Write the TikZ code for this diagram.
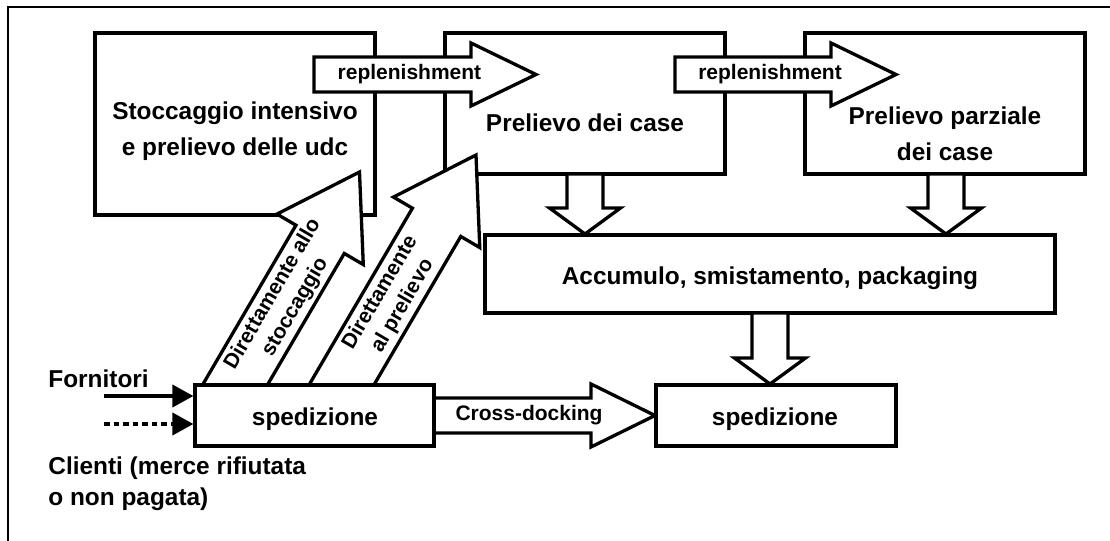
\documentclass[tikz,border=0pt]{standalone}
\usepackage{fontspec}
\setmainfont{Liberation Sans}
\usetikzlibrary{calc,arrows.meta}

% Block arrow from #1 (tail) to #2 (tip):
% #3 half shaft width, #4 half head width, #5 head length
\newcommand\blockarrow[5]{%
  \draw[fat] ($(#1)!#3!90:(#2)$)
    -- ($(#2)!#5!(#1)!#3!-90:(#1)$)
    -- ($(#2)!#5!(#1)!#4!-90:(#1)$)
    -- (#2)
    -- ($(#2)!#5!(#1)!#4!90:(#1)$)
    -- ($(#2)!#5!(#1)!#3!90:(#1)$)
    -- ($(#1)!#3!-90:(#2)$) -- cycle;}

\tikzset{
  box/.style={draw, line width=1.65pt, fill=white, inner sep=0pt,
    outer sep=0pt, anchor=north west},
  fat/.style={draw, line width=1.65pt, fill=white, line join=miter},
  big/.style={font=\bfseries\fontsize{12.2}{18}\selectfont, align=center,
    inner sep=0pt},
  small/.style={font=\bfseries\fontsize{10.5}{13}\selectfont, align=center,
    inner sep=0pt},
  feed/.style={line width=1.9pt, -{Triangle[length=10.5pt,width=11pt]},
    shorten >=0.8pt},
}

\begin{document}
\begin{tikzpicture}[x=0.5pt,y=-0.5pt]
\useasboundingbox (0,0) rectangle (1110,541);

% outer frame
\draw[line width=1pt] (1110,7) -- (8,7) -- (8,541);

% upper boxes and the consolidation area
\node[box, minimum width=140pt, minimum height=91pt] (A) at (95,33) {};
\node[box, minimum width=140pt, minimum height=70.5pt] (B) at (445,33) {};
\node[box, minimum width=140pt, minimum height=70.5pt] (C) at (805,33) {};
\node[box, minimum width=285pt, minimum height=39pt] (D) at (485,235) {};

% replenishment flows
\coordinate (r1a) at (314,74.5);
\coordinate (r1b) at (536,74.5);
\coordinate (r2a) at (675,74.5);
\coordinate (r2b) at (896,74.5);
\blockarrow{r1a}{r1b}{8.75pt}{15.75pt}{32.5pt}
\blockarrow{r2a}{r2b}{8.75pt}{15.75pt}{32.5pt}

% picking areas feeding the consolidation area
\coordinate (b1a) at (585,174);
\coordinate (b1b) at (585,234);
\coordinate (b2a) at (946,174);
\coordinate (b2b) at (946,234);
\coordinate (b3a) at (770,313);
\coordinate (b3b) at (770,384);
\blockarrow{b1a}{b1b}{9pt}{17.75pt}{13pt}
\blockarrow{b2a}{b2b}{9pt}{17.75pt}{13pt}
\blockarrow{b3a}{b3b}{9pt}{17.75pt}{13pt}

% receiving flows going straight to storage and to picking
\coordinate (d1a) at (226.4,399.6);
\coordinate (d1b) at (359.5,172);
\coordinate (d2a) at (332.9,399.6);
\coordinate (d2b) at (476,155);
\blockarrow{d1a}{d1b}{14pt}{25pt}{39pt}
\blockarrow{d2a}{d2b}{14pt}{25pt}{39pt}

% cross-docking flow
\coordinate (xa) at (428,415.5);
\coordinate (xb) at (655,415.5);
\blockarrow{xa}{xb}{8.75pt}{15.75pt}{32pt}

% receiving and shipping boxes
\node[box, minimum width=119.5pt, minimum height=30.5pt] (E) at (195,385) {};
\node[box, minimum width=120pt, minimum height=30.5pt] (F) at (656,385) {};

% box texts
\node[big] (tA) at (235,131) {Stoccaggio intensivo\\e prelievo delle udc};
\node[big] (tB) at (585,123) {Prelievo dei case};
\node[big] (tC) at (945,133.5) {Prelievo parziale\\dei case};
\node[big] (tD) at (770,278) {Accumulo, smistamento, packaging};
\node[big] (tE) at (315,419) {spedizione};
\node[big] (tF) at (775,419) {spedizione};

% arrow texts
\path (r1a) -- node[small, pos=0.43] (tr1) {replenishment} (r1b);
\path (r2a) -- node[small, pos=0.43] (tr2) {replenishment} (r2b);
\path (xa) -- node[small, pos=0.445] (tx) {Cross-docking} (xb);
\path (d1a) -- node[small, sloped, pos=0.435] (td1)
  {Direttamente allo\\stoccaggio} (d1b);
\path (d2a) -- node[small, sloped, pos=0.41] (td2)
  {Direttamente\\al prelievo} (d2b);

% incoming goods
\node[big, anchor=west] (forn) at (48,379) {Fornitori};
\node[font=\bfseries\fontsize{12.2}{15.5}\selectfont, align=left,
  inner sep=0pt, anchor=west] (cli) at (48,483.5)
  {Clienti (merce rifiutata\\o non pagata)};
\coordinate (fa) at (104,396);
\coordinate (ca) at (104,424);
\draw[feed] (fa) -- ($(E.west)+(0,-19.5)$);
\draw[feed, dash pattern=on 2.75pt off 2pt] (ca) -- ($(E.west)+(0,8.5)$);
\end{tikzpicture}
\end{document}
